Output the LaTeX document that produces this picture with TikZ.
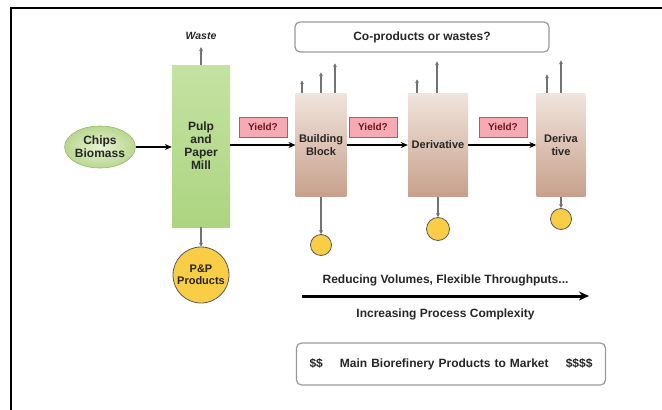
\documentclass[tikz,border=0pt]{standalone}
\usepackage{fontspec}
\setmainfont{Liberation Sans}
\usetikzlibrary{arrows.meta,shapes.geometric}
\definecolor{chipsin}{RGB}{232,242,212}
\definecolor{chipsout}{RGB}{185,215,145}
\definecolor{chipsedge}{RGB}{150,185,100}
\definecolor{milltop}{RGB}{196,226,162}
\definecolor{millbot}{RGB}{172,213,128}
\definecolor{browntop}{RGB}{240,228,220}
\definecolor{brownbot}{RGB}{200,160,140}
\definecolor{yieldpink}{RGB}{245,170,180}
\definecolor{yieldred}{RGB}{200,80,90}
\definecolor{yieldtext}{RGB}{110,20,30}
\definecolor{prodyellow}{RGB}{250,205,70}
\begin{document}
\begin{tikzpicture}[
x=1pt, y=-1pt,
every node/.style={align=center, text=black!85, font=\fontsize{12}{13}\selectfont\bfseries},
unit/.style={minimum height=103pt, top color=browntop, bottom color=brownbot, font=\fontsize{11}{12.5}\selectfont\bfseries},
yieldbox/.style={fill=yieldpink, draw=yieldred, line width=0.8pt, minimum width=48pt, minimum height=20pt, inner sep=0pt, text=yieldtext, font=\fontsize{10}{11}\selectfont\bfseries},
product/.style={circle, fill=prodyellow, draw=black!65, line width=0.8pt, minimum size=21pt, inner sep=0pt},
note/.style={draw=black!40, line width=1.2pt, rounded corners=5pt},
flow/.style={line width=1.8pt, -{Stealth[length=7pt,width=6pt]}},
side/.style={draw=black!55, line width=1.2pt, -{Stealth[length=4pt,width=4pt]}}
]
\useasboundingbox (0,0) rectangle (662,410);
\draw[line width=1.6pt] (11,410) -- (11,8) -- (662,8);

% main line
\node[ellipse, minimum width=66pt, minimum height=42pt, inner sep=0pt, draw=chipsedge, line width=0.6pt, inner color=chipsin, outer color=chipsout] (chips) at (100,147) {Chips\\Biomass};
\node[minimum width=58pt, minimum height=162pt, top color=milltop, bottom color=millbot] (mill) at (201,146) {Pulp\\and\\Paper\\Mill};
\node[font=\fontsize{10.5}{12}\selectfont\bfseries\itshape] (waste) at (201,36) {Waste};
\node[unit, minimum width=48pt] (bb) at (321,145) {Building\\Block};
\node[unit, minimum width=60pt] (der1) at (438,145) {Derivative};
\node[unit, minimum width=49pt] (der2) at (561,145) {Deriva\\tive};
\node[yieldbox] (y1) at (263,127) {Yield?};
\node[yieldbox] (y2) at (373,127) {Yield?};
\node[yieldbox] (y3) at (503,127) {Yield?};
\node[note, minimum width=254pt, minimum height=30pt] (coprod) at (422,37) {Co-products or wastes?};

% products
\node[product, minimum size=56pt, font=\fontsize{11}{12}\selectfont\bfseries] (pp) at (201,275) {P\&P\\Products};
\node[product] (p1) at (321,245) {};
\node[product, minimum size=23pt] (p2) at (438,229) {};
\node[product] (p3) at (561,219) {};

\draw[flow] (chips.east) -- (chips.east -| mill.west);
\draw[flow] (mill.east |- bb.west) -- (bb.west);
\draw[flow] (bb) -- (der1);
\draw[flow] (der1) -- (der2);

\draw[side, shorten >=4pt] (mill) -- (waste);
\foreach \n/\dx/\h in {bb/-19/13, bb/0/21, bb/14/30, der1/-21/14, der1/-1/32, der2/-14/19, der2/0/33}
  \draw[side] ([xshift=\dx pt]\n.north) -- ++(0,-\h);
\draw[side] (mill) -- (pp);
\draw[side] (bb) -- (p1);
\draw[side] (der1) -- (p2);
\draw[side] (der2) -- (p3);

% trend
\coordinate (tstart) at (302,296);
\coordinate (tend) at (589,296);
\draw[line width=3pt, -{Stealth[length=10pt,width=9pt]}] (tstart) -- (tend)
  node[midway, above=5pt] {Reducing Volumes, Flexible Throughputs...}
  node[midway, below=8pt] {Increasing Process Complexity};
\node[note, minimum width=309pt, minimum height=42pt, inner xsep=13pt, text width=283pt] (market) at (451,364) {\$\$\hfill Main Biorefinery Products to Market\hfill\$\$\$\$};
\end{tikzpicture}
\end{document}
